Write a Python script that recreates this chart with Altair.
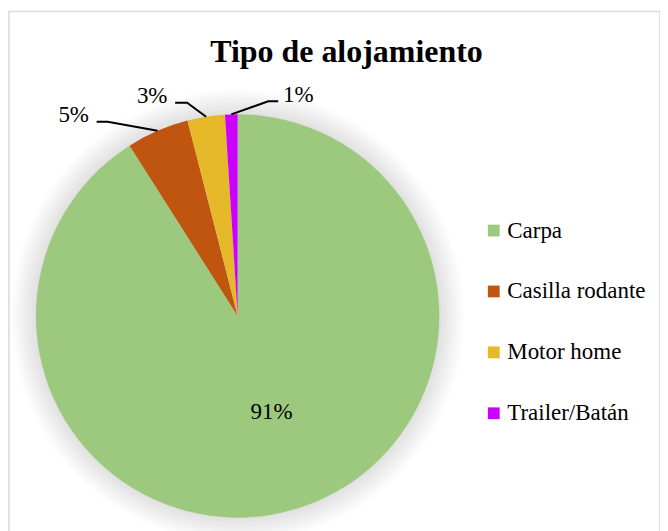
import altair as alt
import numpy as np
import pandas as pd

# ---- data ----
categories = ["Carpa", "Casilla rodante", "Motor home", "Trailer/Batán"]
values = [91, 5, 3, 1]
labels = ["91%", "5%", "3%", "1%"]
colors = ["#9DC97E", "#C0550F", "#E5B92A", "#CC00FF"]

FONT = "Liberation Serif"
W, H = 652, 530
CX, CY, R = 229, 305, 202

df = pd.DataFrame({"cat": categories, "value": values, "label": labels,
                   "ord": list(range(len(categories)))})

# ---- leader-line geometry (layout only) computed from the values ----
total = float(sum(values))
cum = np.cumsum(values) - np.array(values) / 2.0
mid = cum / total * 2 * np.pi
edge_x = CX + R * np.sin(mid)
edge_y = CY - R * np.cos(mid)
# per outside label: elbow offset, horizontal run, text offset
layout = {
    "Casilla rodante": ((-50, -9), -11, (-23, -7)),
    "Motor home": ((-19, -14), -12, (-23, -7)),
    "Trailer/Batán": ((37, -13), 10, (20, -6)),
}
line_rows, text_rows = [], []
for i, c in enumerate(categories):
    if c not in layout:
        continue
    (ex, ey), h, (tx, ty) = layout[c]
    p0 = (edge_x[i], edge_y[i])
    p1 = (p0[0] + ex, p0[1] + ey)
    p2 = (p1[0] + h, p1[1])
    for k, p in enumerate([p0, p1, p2]):
        line_rows.append({"cat": c, "k": k, "x": p[0], "y": p[1]})
    text_rows.append({"cat": c, "label": labels[i], "x": p2[0] + tx, "y": p2[1] + ty})
lines_df = pd.DataFrame(line_rows)
texts_df = pd.DataFrame(text_rows)

xs = alt.Scale(domain=[0, W], range=[0, W])
ys = alt.Scale(domain=[0, H], range=[0, H])

# soft shadow rings
shadows = [
    alt.Chart(df.head(1)).mark_arc(theta=0, theta2=2 * np.pi, radius=r,
                                   color="#000000", opacity=0.011)
    .encode(x=alt.value(CX), y=alt.value(CY))
    for r in [204, 206.5, 209, 211.5, 214, 216.5, 219, 221.5, 224, 227]
]

pie = alt.Chart(df).mark_arc(radius=R, stroke=None).encode(
    theta=alt.Theta("value:Q", stack=True),
    order=alt.Order("ord:Q"),
    color=alt.Color("cat:N",
                    scale=alt.Scale(domain=categories, range=colors),
                    sort=categories,
                    legend=alt.Legend(orient="none", legendX=474, legendY=208,
                                      title=None, symbolType="square",
                                      symbolSize=140, symbolStrokeWidth=0,
                                      labelFont=FONT, labelFontSize=23,
                                      labelColor="#000000", rowPadding=37,
                                      labelOffset=2)),
    x=alt.value(CX), y=alt.value(CY),
)

inside = alt.Chart(df).transform_filter(alt.datum.cat == "Carpa").mark_text(
    radius=100, font=FONT, fontSize=23, color="#000000", dx=6
).encode(
    theta=alt.Theta("value:Q", stack=True),
    order=alt.Order("ord:Q"),
    text="label:N",
    x=alt.value(CX), y=alt.value(CY),
)

leaders = alt.Chart(lines_df).mark_line(color="#000000", strokeWidth=2).encode(
    x=alt.X("x:Q", scale=xs, axis=None),
    y=alt.Y("y:Q", scale=ys, axis=None),
    detail="cat:N",
    order="k:Q",
)

outside = alt.Chart(texts_df).mark_text(font=FONT, fontSize=23, color="#000000").encode(
    x=alt.X("x:Q", scale=xs, axis=None),
    y=alt.Y("y:Q", scale=ys, axis=None),
    text="label:N",
)

title = alt.Chart(df.head(1)).mark_text(
    text="Tipo de alojamiento", font=FONT, fontSize=32, fontWeight="bold",
    color="#000000", baseline="alphabetic", align="center"
).encode(x=alt.value(338), y=alt.value(51))

chart = alt.layer(*shadows, pie, inside, leaders, outside, title).properties(
    width=W, height=H,
    autosize=alt.AutoSizeParams(type="none"),
    padding={"left": 1, "top": 3, "right": 0, "bottom": 0},
    background="#ffffff",
).configure_view(stroke="#D9D9D9", strokeWidth=1.5)

chart.save("out.html", embed_options={"renderer": "svg", "actions": False})
